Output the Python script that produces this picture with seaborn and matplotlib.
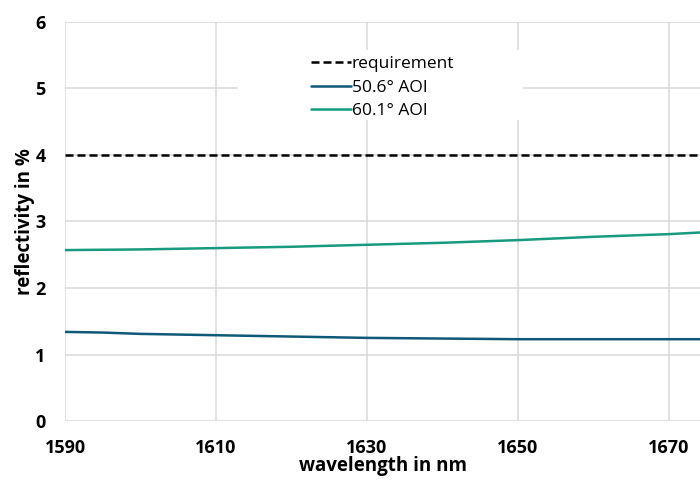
import matplotlib
matplotlib.use("Agg")
import matplotlib.pyplot as plt
import seaborn as sns
import pandas as pd
from matplotlib.patches import Rectangle

# ---- data ----
wavelength = [1590, 1595, 1600, 1605, 1610, 1615, 1620, 1625, 1630, 1635,
              1640, 1645, 1650, 1655, 1660, 1665, 1670, 1675]
aoi_50_6 = [1.34, 1.33, 1.31, 1.30, 1.29, 1.28, 1.27, 1.26, 1.25, 1.245,
            1.24, 1.235, 1.23, 1.23, 1.23, 1.23, 1.23, 1.23]
aoi_60_1 = [2.57, 2.575, 2.58, 2.59, 2.60, 2.61, 2.62, 2.635, 2.65, 2.665,
            2.68, 2.70, 2.72, 2.745, 2.77, 2.79, 2.81, 2.84]
requirement = [4.0] * len(wavelength)
series_names = ["requirement", "50.6° AOI", "60.1° AOI"]
x_ticks = [1590, 1610, 1630, 1650, 1670]
y_ticks = [0, 1, 2, 3, 4, 5, 6]

rows = []
for name, vals in zip(series_names, [requirement, aoi_50_6, aoi_60_1]):
    for w, v in zip(wavelength, vals):
        rows.append({"wavelength": w, "reflectivity": v, "series": name})
df = pd.DataFrame(rows)

sns.set_theme(style="white")
plt.rcParams["font.family"] = ["Open Sans", "DejaVu Sans"]
plt.rcParams["text.color"] = "#000000"
plt.rcParams["axes.labelcolor"] = "#000000"
plt.rcParams["xtick.color"] = "#000000"
plt.rcParams["ytick.color"] = "#000000"

fig = plt.figure(figsize=(7, 4.8), dpi=100)
ax = fig.add_axes([0.0929, 0.1229, 0.9071, 0.8313])

palette = {"requirement": "#000000", "50.6° AOI": "#0e5878", "60.1° AOI": "#179a7f"}
dashes = {"requirement": (3.2, 1.6), "50.6° AOI": "", "60.1° AOI": ""}
sns.lineplot(data=df, x="wavelength", y="reflectivity", hue="series", style="series",
             palette=palette, dashes=dashes, hue_order=series_names,
             style_order=series_names, linewidth=1.8, ax=ax, zorder=3)

ax.set_xlim(1590, 1674.1)
ax.set_ylim(0, 6)
ax.set_xticks(x_ticks)
ax.set_yticks(y_ticks)
ax.grid(True, color="#d9d9d9", linewidth=1.1)
ax.set_axisbelow(True)
for s in ax.spines.values():
    s.set_visible(False)
ax.tick_params(axis="both", length=0, labelsize=13, colors="#000000")
ax.tick_params(axis="x", pad=13)
ax.tick_params(axis="y", pad=14)
for lbl in ax.get_xticklabels() + ax.get_yticklabels():
    lbl.set_fontweight("bold")
ax.set_xlabel("wavelength in nm", fontsize=13.5, fontweight="bold", labelpad=-1,
              color="#000000")
ax.set_ylabel("reflectivity in %", fontsize=13.5, fontweight="bold", labelpad=0.5,
              color="#000000")

# white background box behind legend
ax.add_patch(Rectangle((0.272, 0.754), 0.449, 0.176, transform=ax.transAxes,
                       facecolor="white", edgecolor="none", zorder=1))
handles, labels = ax.get_legend_handles_labels()
leg = ax.legend(handles, labels, loc="center left", bbox_to_anchor=(0.387, 0.835),
                frameon=False, fontsize=12.5, handlelength=2.3, handletextpad=0.05,
                labelspacing=0.42, borderpad=0, borderaxespad=0)
for t in leg.get_texts():
    t.set_color("#000000")
for h in leg.get_lines():
    h.set_linewidth(1.8)

fig.savefig("out.png", dpi=100)
